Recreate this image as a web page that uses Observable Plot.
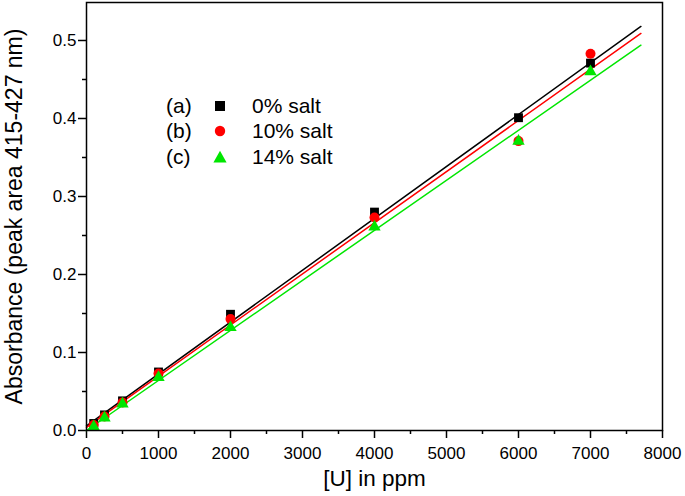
<!DOCTYPE html>
<html>
<head>
<meta charset="utf-8">
<script src="https://cdn.jsdelivr.net/npm/d3@7"></script>
<script src="https://cdn.jsdelivr.net/npm/@observablehq/plot@0.6"></script>
<style>
  html, body { margin: 0; padding: 0; background: #fff; }
  #wrap { position: relative; width: 685px; height: 496px; font-family: "Liberation Sans", Arial, sans-serif; }
  #legend { position: absolute; left: 166px; top: 93px; font-size: 21px; color: #000; }
  #legend .row { display: flex; align-items: center; height: 25.5px; }
  #legend .tag { width: 46px; }
  #legend .sym { width: 40px; display: flex; align-items: center; }
</style>
</head>
<body>
<div id="wrap"><div id="chart"></div><div id="legend"></div></div>
<script>
// Data
const concentration = [100, 250, 500, 1000, 2000, 4000, 6000, 7000];
const salt0  = [0.009, 0.020, 0.038, 0.075, 0.149, 0.280, 0.401, 0.471];
const salt10 = [0.007, 0.018, 0.036, 0.073, 0.143, 0.273, 0.371, 0.483];
const salt14 = [0.005, 0.016, 0.034, 0.068, 0.132, 0.261, 0.371, 0.460];

// Fitted lines (endpoints)
const fitX   = [0, 7700];
const fit0   = [0.006, 0.518];
const fit10  = [0.004, 0.509];
const fit14  = [0.000, 0.494];

const seriesNames = ["0% salt", "10% salt", "14% salt"];
const seriesTags  = ["(a)", "(b)", "(c)"];
const seriesColors = ["#000000", "#ff0000", "#00e600"];
const seriesSymbols = ["square", "circle", "triangle"];

const xTicks = [0, 1000, 2000, 3000, 4000, 5000, 6000, 7000, 8000];
const xMinor = [500, 1500, 2500, 3500, 4500, 5500, 6500, 7500];
const yTicks = [0, 0.1, 0.2, 0.3, 0.4, 0.5];
const yMinor = [0.05, 0.15, 0.25, 0.35, 0.45];

const pts = (vals, name) => concentration.map((c, i) => ({x: c, y: vals[i], s: name}));
const fitPts = (vals, name) => fitX.map((c, i) => ({x: c, y: vals[i], s: name}));

const seriesVals = [salt0, salt10, salt14];
const fitVals = [fit0, fit10, fit14];

const marks = [];
fitVals.forEach((v, k) => {
  marks.push(Plot.line(fitPts(v, seriesNames[k]), {x: "x", y: "y", stroke: seriesColors[k], strokeWidth: 1.5}));
});
const sizes = [5, 5, 4.6];
seriesVals.forEach((v, k) => {
  marks.push(Plot.dot(pts(v, seriesNames[k]), {x: "x", y: "y", symbol: seriesSymbols[k], fill: seriesColors[k], r: sizes[k], stroke: "none"}));
});

const chart = Plot.plot({
  width: 685,
  height: 496,
  marginLeft: 86,
  marginRight: 23,
  marginTop: 2,
  marginBottom: 66,
  style: {fontFamily: "'Liberation Sans', Arial, sans-serif", fontSize: "17px", background: "#fff", color: "#000"},
  x: {domain: [0, 8000]},
  y: {domain: [0, 0.5487]},
  marks: [
    Plot.axisX({ticks: xMinor, tickSize: 4, tickFormat: () => "", strokeWidth: 1.5, label: null}),
    Plot.axisX({ticks: xTicks, tickSize: 8, tickPadding: 8, tickFormat: d => String(d), strokeWidth: 1.5, fontSize: 17, label: null}),
    Plot.axisY({ticks: yMinor, tickSize: 4, tickFormat: () => "", strokeWidth: 1.5, label: null}),
    Plot.axisY({ticks: yTicks, tickSize: 8, tickPadding: 2, tickFormat: d => d.toFixed(1), strokeWidth: 1.5, fontSize: 17, label: null}),
    Plot.text(["[U] in ppm"], {frameAnchor: "bottom", dy: 48, lineAnchor: "middle", fontSize: 22.5}),
    Plot.text(["Absorbance (peak area 415-427 nm)"], {frameAnchor: "left", dx: -72, rotate: -90, textAnchor: "middle", lineAnchor: "middle", fontSize: 23}),
    ...marks,
    Plot.frame({stroke: "#000", strokeWidth: 1.5})
  ]
});
document.getElementById("chart").appendChild(chart);

// Legend
const legend = document.getElementById("legend");
const symbolPaths = {
  square: '<rect x="3" y="3" width="10" height="10"/>',
  circle: '<circle cx="8" cy="8" r="5.2"/>',
  triangle: '<path d="M8 1.8 L14.6 13.5 L1.4 13.5 Z"/>'
};
seriesNames.forEach((name, k) => {
  const row = document.createElement("div");
  row.className = "row";
  row.innerHTML = `<span class="tag">${seriesTags[k]}</span>` +
    `<span class="sym"><svg width="16" height="16" viewBox="0 0 16 16" fill="${seriesColors[k]}">${symbolPaths[seriesSymbols[k]]}</svg></span>` +
    `<span class="lab">${name}</span>`;
  legend.appendChild(row);
});
</script>
</body>
</html>
